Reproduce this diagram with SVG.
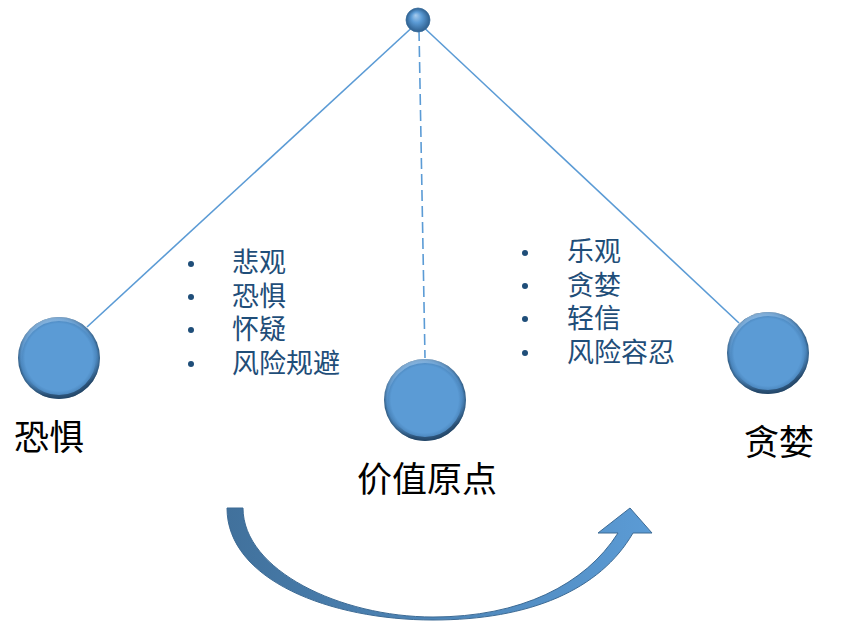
<svg xmlns="http://www.w3.org/2000/svg" width="842" height="643" viewBox="0 0 842 643">
<style>
.lbl{font-family:"Noto Sans CJK SC","Noto Sans",sans-serif;font-size:35px;fill:#000}
.li{font-family:"Liberation Sans","Noto Sans CJK SC",sans-serif;font-size:27px;fill:#1F4E79}
.dot{fill:#1F4E79}
.cn{stroke:#5B9BD5;stroke-width:1.6;fill:none}
</style>
<defs>
<radialGradient id="ball" cx="50%" cy="50%" r="50%" fx="48%" fy="45%">
<stop offset="0" stop-color="#5B9BD5"/>
<stop offset="0.82" stop-color="#5B9BD5"/>
<stop offset="0.93" stop-color="#4A85BC"/>
<stop offset="1" stop-color="#2C5478"/>
</radialGradient>
<linearGradient id="rim" x1="0" y1="0" x2="0.3" y2="1">
<stop offset="0" stop-color="#A9CDEE" stop-opacity="0.9"/>
<stop offset="0.35" stop-color="#7FB2E2" stop-opacity="0.3"/>
<stop offset="0.6" stop-color="#5B9BD5" stop-opacity="0"/>
<stop offset="1" stop-color="#1E3D5C" stop-opacity="0.7"/>
</linearGradient>
<radialGradient id="small" cx="50%" cy="50%" r="50%" fx="40%" fy="30%">
<stop offset="0" stop-color="#A8CCEE"/>
<stop offset="0.45" stop-color="#5B9BD5"/>
<stop offset="1" stop-color="#2E5F8E"/>
</radialGradient>
<linearGradient id="arrowg" x1="0" y1="0" x2="1" y2="0">
<stop offset="0" stop-color="#41719C"/>
<stop offset="1" stop-color="#5B9BD5"/>
</linearGradient>
</defs>
<g id="connectors">
<line class="cn" x1="418" y1="22" x2="87" y2="327"/>
<line class="cn" x1="418" y1="22" x2="739" y2="323"/>
<line class="cn" x1="419" y1="30" x2="425" y2="358" stroke-dasharray="11 5"/>
</g>
<g id="top">
<circle cx="418" cy="20" r="12" fill="url(#small)" stroke="#3A6D9C" stroke-width="0.8"/>
</g>
<g id="fear">
<circle cx="59" cy="358" r="41" fill="url(#ball)"/>
<circle cx="59" cy="358" r="39" fill="none" stroke="url(#rim)" stroke-width="4"/>
<text class="lbl" x="14" y="450">恐惧</text>
</g>
<g id="origin">
<circle cx="425" cy="400" r="41" fill="url(#ball)"/>
<circle cx="425" cy="400" r="39" fill="none" stroke="url(#rim)" stroke-width="4"/>
<text class="lbl" x="357" y="492">价值原点</text>
</g>
<g id="greed">
<circle cx="768" cy="353" r="41" fill="url(#ball)"/>
<circle cx="768" cy="353" r="39" fill="none" stroke="url(#rim)" stroke-width="4"/>
<text class="lbl" x="744" y="455">贪婪</text>
</g>
<g id="list-left">
<circle class="dot" cx="191" cy="264" r="3"/>
<circle class="dot" cx="191" cy="297" r="3"/>
<circle class="dot" cx="191" cy="330" r="3"/>
<circle class="dot" cx="191" cy="364" r="3"/>
<text class="li" x="232" y="272">悲观</text>
<text class="li" x="232" y="306">恐惧</text>
<text class="li" x="232" y="339">怀疑</text>
<text class="li" x="232" y="373">风险规避</text>
</g>
<g id="list-right">
<circle class="dot" cx="525" cy="253" r="3"/>
<circle class="dot" cx="525" cy="286" r="3"/>
<circle class="dot" cx="525" cy="319" r="3"/>
<circle class="dot" cx="525" cy="353" r="3"/>
<text class="li" x="567" y="261">乐观</text>
<text class="li" x="567" y="295">贪婪</text>
<text class="li" x="567" y="328">轻信</text>
<text class="li" x="567" y="362">风险容忍</text>
</g>
<g id="arrow">
<path d="M227,508 C227,580 330,620 433,620 C530,620 600,590 633,533 L652,533 L630,508 L598,533 L618,533 C585,585 520,617 433,617 C340,617 243,570 243,508 Z" fill="url(#arrowg)" stroke="#3C6A94" stroke-width="1"/>
</g>
</svg>
